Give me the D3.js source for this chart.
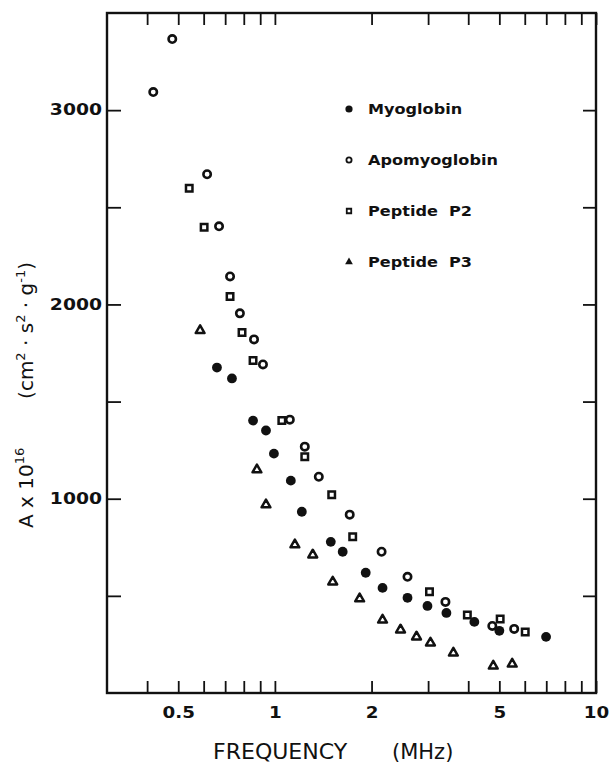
<!DOCTYPE html>
<html>
<head>
<meta charset="utf-8">
<script src="https://cdn.jsdelivr.net/npm/d3@7"></script>
<style>
  body { margin: 0; background: #fff; }
  svg { display: block; }
  .axis path { display: none; }
  .axis line { stroke: #111; stroke-width: 1.8; }
  .axis text { font-family: "DejaVu Sans", sans-serif; font-weight: bold; font-size: 15px; fill: #111; }
</style>
</head>
<body>
<div id="chart"></div>
<script>
// values (frequency in MHz, A x 10^16)
var seriesNames = ["Myoglobin", "Apomyoglobin", "Peptide  P2", "Peptide  P3"];

var myoFreq = [0.660, 0.735, 0.855, 0.938, 0.993, 1.121, 1.213, 1.493, 1.626, 1.918, 2.164, 2.588, 2.986, 3.421, 4.18, 5.0, 6.99];
var myoA    = [1675, 1619, 1402, 1351, 1232, 1093, 933, 778, 727, 619, 541, 490, 448, 412, 366, 320, 289];

var apoFreq = [0.418, 0.479, 0.615, 0.670, 0.725, 0.778, 0.861, 0.918, 1.113, 1.239, 1.370, 1.710, 2.149, 2.588, 3.397, 4.754, 5.562];
var apoA    = [3093, 3366, 2670, 2402, 2144, 1954, 1820, 1691, 1407, 1268, 1113, 918, 727, 598, 469, 345, 330];

var p2Freq = [0.541, 0.602, 0.725, 0.790, 0.855, 1.051, 1.239, 1.503, 1.747, 3.030, 3.975, 5.03, 6.02];
var p2A    = [2598, 2397, 2041, 1856, 1711, 1402, 1216, 1021, 804, 521, 402, 381, 314];

var p3Freq = [0.585, 0.879, 0.938, 1.154, 1.312, 1.514, 1.836, 2.164, 2.462, 2.761, 3.051, 3.596, 4.787, 5.483];
var p3A    = [1866, 1149, 969, 763, 711, 572, 485, 376, 325, 289, 258, 206, 139, 149];

var xTicks = [0.4, 0.5, 0.6, 0.7, 0.8, 0.9, 1, 2, 3, 4, 5, 6, 7, 8, 9, 10];
var xLabels = [0.5, 1, 2, 5, 10];
var yTicks = [500, 1000, 1500, 2000, 2500, 3000];
var yLabels = [1000, 2000, 3000];

(function () {
    var width = 611, height = 766;
    var pLeft = 107, pRight = 596, pTop = 13, pBottom = 693;

    var svg = d3.select("#chart").append("svg")
        .attr("width", width)
        .attr("height", height);

    var x = d3.scaleLog().domain([0.3, 10]).range([pLeft, pRight]);
    var y = d3.scaleLinear().domain([0, 3500]).range([pBottom, pTop]);

    var fmtX = function (d) { return xLabels.indexOf(d) >= 0 ? String(d) : ""; };
    var fmtY = function (d) { return yLabels.indexOf(d) >= 0 ? String(d) : ""; };

    // bottom axis, ticks pointing in
    svg.append("g").attr("class", "axis")
        .attr("transform", "translate(0," + pBottom + ")")
        .call(d3.axisBottom(x).tickValues(xTicks).tickFormat(fmtX).tickSizeInner(-12).tickSizeOuter(0).tickPadding(14))
        .selectAll("text").attr("transform", "scale(1.22,1)");

    svg.append("g").attr("class", "axis")
        .attr("transform", "translate(0," + pTop + ")")
        .call(d3.axisTop(x).tickValues(xTicks).tickFormat("").tickSizeInner(-12).tickSizeOuter(0));

    svg.append("g").attr("class", "axis")
        .attr("transform", "translate(" + pLeft + ",0)")
        .call(d3.axisLeft(y).tickValues(yTicks).tickFormat(fmtY).tickSizeInner(-14).tickSizeOuter(0).tickPadding(4))
        .selectAll("text").attr("transform", "scale(1.25,1)");

    svg.append("g").attr("class", "axis")
        .attr("transform", "translate(" + pRight + ",0)")
        .call(d3.axisRight(y).tickValues(yTicks).tickFormat("").tickSizeInner(-13).tickSizeOuter(0));

    // frame
    svg.append("rect")
        .attr("x", pLeft).attr("y", pTop)
        .attr("width", pRight - pLeft).attr("height", pBottom - pTop)
        .attr("fill", "none").attr("stroke", "#111").attr("stroke-width", 2.4);

    var zip = function (fs, as) { return fs.map(function (f, i) { return { f: f, a: as[i] }; }); };

    var plot = svg.append("g");

    // apomyoglobin: open circles
    plot.selectAll("circle.apo").data(zip(apoFreq, apoA)).enter().append("circle")
        .attr("class", "apo")
        .attr("cx", function (d) { return x(d.f); })
        .attr("cy", function (d) { return y(d.a); })
        .attr("r", 3.7)
        .attr("fill", "#fff").attr("stroke", "#111").attr("stroke-width", 2.6);

    // peptide P2: open squares
    plot.selectAll("path.p2").data(zip(p2Freq, p2A)).enter().append("path")
        .attr("class", "p2")
        .attr("d", d3.symbol().type(d3.symbolSquare).size(42))
        .attr("transform", function (d) { return "translate(" + x(d.f) + "," + y(d.a) + ")"; })
        .attr("fill", "#fff").attr("stroke", "#111").attr("stroke-width", 2.5);

    // myoglobin: filled circles
    plot.selectAll("circle.myo").data(zip(myoFreq, myoA)).enter().append("circle")
        .attr("class", "myo")
        .attr("cx", function (d) { return x(d.f); })
        .attr("cy", function (d) { return y(d.a); })
        .attr("r", 4.9)
        .attr("fill", "#111");

    // peptide P3: open triangles
    plot.selectAll("path.p3").data(zip(p3Freq, p3A)).enter().append("path")
        .attr("class", "p3")
        .attr("d", d3.symbol().type(d3.symbolTriangle).size(34))
        .attr("transform", function (d) { return "translate(" + x(d.f) + "," + y(d.a) + ")"; })
        .attr("fill", "#fff").attr("stroke", "#111").attr("stroke-width", 2.5)
        .attr("stroke-linejoin", "round");

    // legend
    var legend = svg.append("g").attr("transform", "translate(349,109)");
    var rows = legend.selectAll("g").data(seriesNames).enter().append("g")
        .attr("transform", function (d, i) { return "translate(0," + (i * 51) + ")"; });

    rows.each(function (d, i) {
        var g = d3.select(this);
        if (i === 0) g.append("circle").attr("r", 3.6).attr("fill", "#111");
        if (i === 1) g.append("circle").attr("r", 2.6).attr("fill", "#fff").attr("stroke", "#111").attr("stroke-width", 1.8);
        if (i === 2) g.append("path").attr("d", d3.symbol().type(d3.symbolSquare).size(20))
            .attr("fill", "#fff").attr("stroke", "#111").attr("stroke-width", 1.8);
        if (i === 3) g.append("path").attr("d", d3.symbol().type(d3.symbolTriangle).size(26)).attr("fill", "#111");
    });

    rows.append("text")
        .attr("transform", "translate(19,5) scale(1.15,1)")
        .attr("font-family", "'DejaVu Sans', sans-serif")
        .attr("font-weight", "bold")
        .attr("font-size", 14)
        .attr("fill", "#111")
        .style("white-space", "pre")
        .text(function (d) { return d; });

    // x axis title
    var xt = svg.append("g")
        .attr("font-family", "'DejaVu Sans', sans-serif")
        .attr("font-size", 21)
        .attr("fill", "#111");
    xt.append("text").attr("x", 213).attr("y", 759)
        .attr("transform", "translate(213,0) scale(1.05,1) translate(-213,0)")
        .text("FREQUENCY");
    xt.append("text").attr("x", 392).attr("y", 759).text("(MHz)");

    // y axis title: "A x 10^16" reading upward from the bottom, units ending higher up
    var yt = svg.append("g")
        .attr("transform", "translate(33,528) rotate(-90)")
        .attr("font-family", "'DejaVu Sans', sans-serif")
        .attr("font-size", 20)
        .attr("fill", "#111");

    var ya = yt.append("text");
    ya.append("tspan").text("A x 10");
    ya.append("tspan").attr("font-size", 13).attr("dy", -9).text("16");

    var yu = yt.append("text").attr("x", 266).attr("text-anchor", "end").style("white-space", "pre");
    yu.append("tspan").text("(cm");
    yu.append("tspan").attr("font-size", 13).attr("dy", -8).text("2");
    yu.append("tspan").attr("dy", 8).text(" \u00b7 s");
    yu.append("tspan").attr("font-size", 13).attr("dy", -8).text("2");
    yu.append("tspan").attr("dy", 8).text(" \u00b7 g");
    yu.append("tspan").attr("font-size", 13).attr("dy", -8).text("-1");
    yu.append("tspan").attr("dy", 8).text(")");
})();
</script>
</body>
</html>
